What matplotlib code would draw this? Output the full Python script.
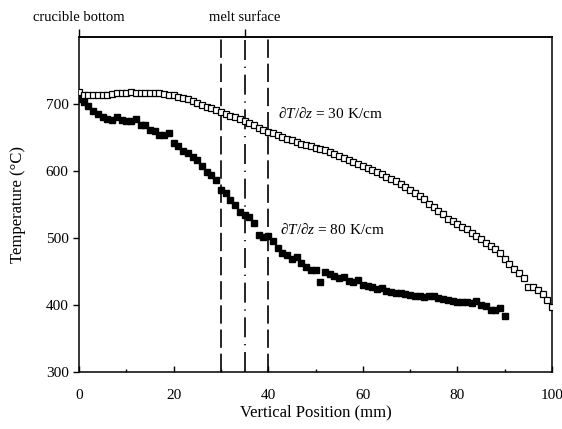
import numpy as np
import matplotlib
matplotlib.use('Agg')
import matplotlib.pyplot as plt
from matplotlib.ticker import MultipleLocator

plt.rcParams['font.family'] = ['Liberation Serif', 'DejaVu Serif']
plt.rcParams['mathtext.fontset'] = 'custom'
plt.rcParams['mathtext.rm'] = 'Liberation Serif'
plt.rcParams['mathtext.it'] = 'Liberation Serif:italic'

# 30 K/cm gradient, open squares, one point per mm (0..100)
pos_30 = list(range(0, 101))
temp_30 = [718, 714, 713, 713, 714, 714, 714, 715, 716, 716,
           717, 718, 717, 717, 717, 717, 716, 716, 715, 714,
           713, 711, 709, 707, 704, 701, 698, 696, 694, 691,
           688, 685, 682, 680, 677, 674, 671, 668, 664, 661,
           658, 656, 653, 651, 648, 646, 644, 641, 639, 637,
           635, 633, 631, 628, 625, 622, 620, 617, 614, 611,
           608, 605, 602, 598, 595, 591, 588, 585, 581, 576,
           572, 567, 562, 558, 551, 546, 541, 536, 529, 525,
           521, 517, 513, 507, 503, 498, 493, 488, 483, 477,
           468, 461, 454, 447, 441, 427, 427, 423, 417, 408,
           397]

# 80 K/cm gradient, filled squares (0..90)
pos_80 = list(range(0, 91))
temp_80 = [708, 703, 697, 690, 685, 681, 678, 676, 680, 676,
           674, 674, 678, 668, 668, 661, 659, 654, 654, 656,
           642, 637, 630, 627, 621, 617, 608, 598, 594, 586,
           572, 567, 557, 549, 539, 535, 531, 522, 505, 501,
           503, 496, 485, 478, 474, 469, 471, 462, 457, 452,
           452, 434, 449, 446, 443, 440, 442, 436, 434, 437,
           430, 428, 427, 424, 425, 421, 420, 418, 418, 416,
           415, 414, 413, 412, 413, 414, 410, 409, 407, 406,
           404, 405, 404, 403, 406, 400, 399, 393, 392, 396,
           383]

# boundaries of the melt region (mm)
melt_lo, melt_mid, melt_hi = 30, 35, 40

fig = plt.figure(figsize=(5.62, 4.29), dpi=100)
ax = fig.add_axes([0.1406, 0.1329, 0.8416, 0.7809])

ax.axvline(melt_lo, color='black', lw=1.2, dashes=(11, 3.5), zorder=1)
ax.axvline(melt_hi, color='black', lw=1.2, dashes=(11, 3.5), zorder=1)
ax.axvline(melt_mid, color='black', lw=1.2, dashes=(12, 4, 0.8, 4), zorder=1)

ax.plot(pos_80, temp_80, linestyle='none', marker='s', markersize=4.5,
        color='black', zorder=3)
ax.plot(pos_30, temp_30, linestyle='none', marker='s', markersize=4.2,
        markerfacecolor='white', markeredgecolor='black',
        markeredgewidth=0.9, zorder=4)

ax.text(42, 686, r'$\partial T/\partial z$ = 30 K/cm', fontsize=11,
        va='center', ha='left')
ax.text(42.5, 512, r'$\partial T/\partial z$ = 80 K/cm', fontsize=11,
        va='center', ha='left')

ax.set_xlim(0, 100)
ax.set_ylim(300, 800)
ax.set_yticks([300, 400, 500, 600, 700])
ax.set_xticks([0, 20, 40, 60, 80, 100])
ax.xaxis.set_minor_locator(MultipleLocator(10))
ax.tick_params(axis='x', which='major', direction='in', length=4, width=1,
               labelsize=11, pad=12)
ax.tick_params(axis='x', which='minor', direction='in', length=2.5, width=1)
ax.tick_params(axis='y', direction='out', length=4, width=1, labelsize=11)

for s in ax.spines.values():
    s.set_linewidth(1.1)

ax.set_xlabel('Vertical Position (mm)', fontsize=12, labelpad=2)
ax.set_ylabel('Temperature (°C)', fontsize=12, labelpad=14)

top = ax.secondary_xaxis('top')
top.set_xticks([0, melt_mid])
top.set_xticklabels(['crucible bottom', 'melt surface'])
top.tick_params(direction='out', length=6, width=1, labelsize=10.5, pad=3)
top.spines['top'].set_linewidth(1.1)

fig.savefig('out.png', dpi=100)
